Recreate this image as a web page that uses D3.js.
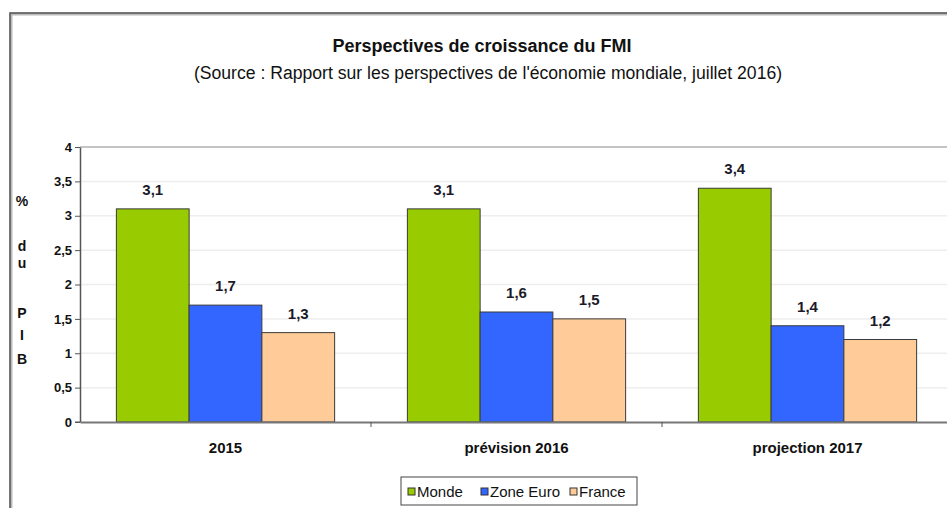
<!DOCTYPE html>
<html>
<head>
<meta charset="utf-8">
<script src="https://cdn.jsdelivr.net/npm/d3@7"></script>
<style>
  body { margin: 0; background: #fff; }
  svg { display: block; font-family: "Liberation Sans", Arial, sans-serif; }
</style>
</head>
<body>
<div id="chart"></div>
<script>
// data
const categories = ["2015", "prévision 2016", "projection 2017"];
const seriesNames = ["Monde", "Zone Euro", "France"];
const monde = [3.1, 3.1, 3.4];
const zoneEuro = [1.7, 1.6, 1.4];
const france = [1.3, 1.5, 1.2];
const yTicks = [0, 0.5, 1, 1.5, 2, 2.5, 3, 3.5, 4];
const colors = ["#99cc00", "#3366ff", "#ffcc99"];
const yLabelLines = ["%", "d", "u", "P", "I", "B"];

const W = 947, H = 508;
const margin = {left: 80, top: 147};
const width = 873, height = 275;

const svg = d3.select("#chart")
  .append("svg")
    .attr("width", W)
    .attr("height", H);

// outer chart frame
svg.append("rect")
  .attr("x", 11).attr("y", 14)
  .attr("width", W + 20).attr("height", H + 20)
  .attr("fill", "none")
  .attr("stroke", "#bbb")
  .attr("stroke-width", 3);
svg.append("rect")
  .attr("x", 10).attr("y", 13)
  .attr("width", W + 20).attr("height", H + 20)
  .attr("fill", "none")
  .attr("stroke", "#555")
  .attr("stroke-width", 1.5);

// titles
svg.append("text")
  .attr("x", 482).attr("y", 52)
  .attr("text-anchor", "middle")
  .style("font-size", "18px")
  .style("font-weight", "bold")
  .attr("fill", "#111")
  .text("Perspectives de croissance du FMI");
svg.append("text")
  .attr("x", 488).attr("y", 79)
  .attr("text-anchor", "middle")
  .style("font-size", "17.6px")
  .attr("fill", "#111")
  .text("(Source : Rapport sur les perspectives de l'économie mondiale,  juillet 2016)");

const g = svg.append("g")
  .attr("transform", `translate(${margin.left},${margin.top})`);

// scales
const x = d3.scaleBand()
  .domain(categories)
  .range([0, width])
  .paddingInner(0).paddingOuter(0);

const xSub = d3.scaleBand()
  .domain(seriesNames)
  .range([0, x.bandwidth()])
  .paddingOuter(0.5)
  .paddingInner(0);

const y = d3.scaleLinear()
  .domain([0, 4])
  .range([height, 0]);

// gridlines
g.append("g")
  .selectAll("line")
  .data(yTicks.slice(1, -1))
  .join("line")
    .attr("x1", 0).attr("x2", width)
    .attr("y1", d => y(d)).attr("y2", d => y(d))
    .attr("stroke", "#eeeeee")
    .attr("stroke-width", 1.5);

// plot top border
g.append("line")
  .attr("x1", 0).attr("x2", width)
  .attr("y1", 0).attr("y2", 0)
  .attr("stroke", "#c4c4c4")
  .attr("stroke-width", 2);

// bars
const table = seriesNames.map((name, i) => ({
  key: name,
  color: colors[i],
  values: [monde, zoneEuro, france][i]
}));

const groups = g.append("g")
  .selectAll("g")
  .data(table)
  .join("g")
    .attr("fill", d => d.color);

groups.selectAll("rect")
  .data(d => d.values.map((v, j) => ({key: d.key, cat: categories[j], value: v})))
  .join("rect")
    .attr("x", d => x(d.cat) + xSub(d.key))
    .attr("y", d => y(d.value))
    .attr("width", xSub.bandwidth())
    .attr("height", d => y(0) - y(d.value))
    .attr("stroke", "#3a3a3a")
    .attr("stroke-width", 1);

// value labels
groups.selectAll("text")
  .data(d => d.values.map((v, j) => ({key: d.key, cat: categories[j], value: v})))
  .join("text")
    .attr("x", d => x(d.cat) + xSub(d.key) + xSub.bandwidth() / 2)
    .attr("y", d => y(d.value) - 14)
    .attr("text-anchor", "middle")
    .attr("fill", "#1a1a2a")
    .style("font-size", "15px")
    .style("font-weight", "bold")
    .text(d => String(d.value).replace(".", ","));

// y axis
const yAxis = g.append("g")
  .call(d3.axisLeft(y)
    .tickValues(yTicks)
    .tickSize(5)
    .tickSizeOuter(0)
    .tickFormat(d => String(d).replace(".", ",")));
yAxis.select(".domain").attr("stroke", "#555").attr("stroke-width", 1.5);
yAxis.selectAll(".tick line").attr("stroke", "#555");
yAxis.selectAll(".tick text")
  .attr("x", -8)
  .attr("fill", "#111")
  .style("font-size", "13px")
  .style("font-weight", "bold")
  .style("font-family", "'Liberation Sans', Arial, sans-serif");

// x axis
const xAxis = g.append("g")
  .attr("transform", `translate(0,${height})`)
  .call(d3.axisBottom(x).tickSize(0).tickSizeOuter(0).tickPadding(20));
xAxis.select(".domain").attr("stroke", "#777").attr("stroke-width", 2);
xAxis.selectAll(".tick text")
  .attr("fill", "#111")
  .style("font-size", "15px")
  .style("font-weight", "bold")
  .style("font-family", "'Liberation Sans', Arial, sans-serif");
xAxis.append("g")
  .selectAll("line")
  .data(categories.slice(1))
  .join("line")
    .attr("x1", d => x(d)).attr("x2", d => x(d))
    .attr("y1", 0).attr("y2", 5)
    .attr("stroke", "#555");
xAxis.append("line")
  .attr("x1", -5).attr("x2", 0)
  .attr("y1", 0).attr("y2", 0)
  .attr("stroke", "#555");

// y axis title, one letter per line
const yLabelY = [206, 251, 268, 318, 340, 364];
svg.append("g")
  .selectAll("text")
  .data(yLabelLines)
  .join("text")
    .attr("x", 22)
    .attr("y", (d, i) => yLabelY[i])
    .attr("text-anchor", "middle")
    .attr("fill", "#111")
    .style("font-size", "14px")
    .style("font-weight", "bold")
    .text(d => d);

// legend
const legend = svg.append("g")
  .attr("transform", "translate(401,477)");
legend.append("rect")
  .attr("width", 236).attr("height", 28)
  .attr("fill", "#fff")
  .attr("stroke", "#444")
  .attr("stroke-width", 1);

const legendX = [7, 80, 169];
const items = legend.selectAll("g.item")
  .data(table)
  .join("g")
    .attr("class", "item")
    .attr("transform", (d, i) => `translate(${legendX[i]},0)`);
items.append("rect")
  .attr("x", 0).attr("y", 11)
  .attr("width", 7).attr("height", 7)
  .attr("fill", d => d.color)
  .attr("stroke", "#333");
items.append("text")
  .attr("x", 9).attr("y", 20)
  .attr("fill", "#111")
  .style("font-size", "15px")
  .text(d => d.key);
</script>
</body>
</html>
